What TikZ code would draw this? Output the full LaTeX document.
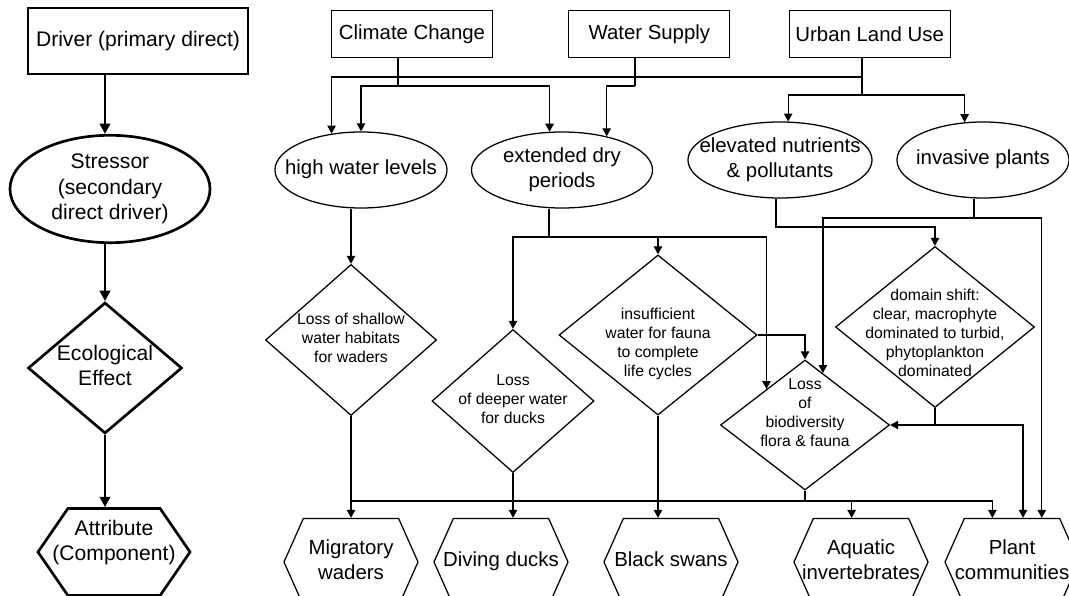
\documentclass[tikz,border=0pt]{standalone}
\usepackage{fontspec}
\setmainfont{Liberation Sans}
\usetikzlibrary{positioning,arrows.meta,shapes.geometric,shapes.symbols}
\newcommand{\shapetext}[2][0pt]{%
  \makebox[0pt]{\raisebox{#1}[\height][\depth]{%
    \begin{tabular}{@{}c@{}}#2\end{tabular}}}}
\tikzset{
  body/.style    = {draw=black, line width=0.9pt, inner sep=0pt,
                    font=\fontsize{14.5}{17.5}\selectfont},
  drvbox/.style  = {body, rectangle, minimum width=4.025cm,
                    minimum height=1.175cm},
  strs/.style    = {body, ellipse, minimum height=1.9cm},
  effect/.style  = {body, diamond, font=\fontsize{11.2}{13.5}\selectfont},
  attrib/.style  = {body, signal, signal to=east and west,
                    signal pointer angle=132, minimum width=3.35cm,
                    minimum height=2.175cm},
  keyitem/.style = {line width=1.9pt, font=\fontsize{15}{18}\selectfont},
  wire/.style    = {black, line width=0.9pt},
  flow/.style    = {wire, -{Triangle[length=2mm,width=2.1mm]}},
  legflow/.style = {black, line width=1.9pt,
                    -{Triangle[length=2.6mm,width=2.6mm]}},
}
\begin{document}
\begin{tikzpicture}[x=0.025cm, y=-0.025cm]
  \useasboundingbox (0,0) rectangle (1069,596);

  %% ---------------- key (left column) ------------------------------
  \node[drvbox, keyitem, minimum width=5.5cm, minimum height=1.65cm]
       (ldrv) at (138,41) {Driver (primary direct)};
  \node[strs, keyitem, minimum width=5cm, minimum height=2.3cm]
       (lstr) at (110,189) {\shapetext{Stressor\\(secondary\\direct driver)}};
  \node[effect, keyitem, minimum width=3.85cm, minimum height=3.275cm]
       (leff) at (105,368) {\shapetext{Ecological\\Effect}};
  \node[attrib, keyitem, signal pointer angle=111, minimum width=3.8cm]
       (latt) at (114,552) {\shapetext[0.22cm]{Attribute\\(Component)}};
  \draw[legflow] (ldrv.south -| leff) -- (lstr.north -| leff);
  \draw[legflow] (lstr.south -| leff) -- (leff.north);
  \draw[legflow] (leff.south) -- (latt.north -| leff);

  %% ---------------- drivers ----------------------------------------
  \node[drvbox] (cc) at (412,34) {Climate Change};
  \node[drvbox, right=1.875cm of cc] (ws) {Water Supply};
  \node[drvbox, right=1.45cm of ws]  (ul) {Urban Land Use};

  %% ---------------- stressors --------------------------------------
  \node[strs, minimum width=4.3cm]   (hwl) at (361,170)
       {\shapetext{high water levels}};
  \node[strs, minimum width=4.525cm] (edp) at (562,170)
       {\shapetext{extended dry\\periods}};
  \node[strs, minimum width=4.6cm]   (elv) at (780,160)
       {\shapetext{elevated nutrients\\\& pollutants}};
  \node[strs, minimum width=4.3cm]   (inv) at (983,160)
       {\shapetext{invasive plants}};

  %% ---------------- ecological effects -----------------------------
  \node[effect, minimum width=4.275cm, minimum height=3.775cm] (shw) at (351,340)
       {\shapetext{Loss of shallow\\water habitats\\for waders}};
  \node[effect, minimum width=4.05cm, minimum height=3.575cm]  (dpw) at (513,401)
       {\shapetext{Loss\\of deeper water\\for ducks}};
  \node[effect, minimum width=4.95cm, minimum height=4cm]      (ins) at (658,335)
       {\shapetext[-0.24cm]{insufficient\\water for fauna\\to complete\\life cycles}};
  \node[effect, minimum width=4.225cm, minimum height=3.25cm]  (bio) at (805,425)
       {\shapetext[0.28cm]{Loss\\of\\biodiversity\\flora \& fauna}};
  \node[effect, minimum width=4.975cm, minimum height=4.025cm] (dom) at (935,327)
       {\shapetext[-0.2cm]{domain shift:\\clear, macrophyte\\dominated to turbid,\\phytoplankton\\dominated}};

  %% ---------------- attributes -------------------------------------
  \node[attrib] (mw) at (351,562)  {\shapetext{Migratory\\waders}};
  \node[attrib] (dd) at (501,562)  {\shapetext{Diving ducks}};
  \node[attrib] (bs) at (671,562)  {\shapetext{Black swans}};
  \node[attrib] (ai) at (861,562)  {\shapetext{Aquatic\\invertebrates}};
  \node[attrib] (pc) at (1012,562) {\shapetext{Plant\\communities}};

  %% ---------------- drivers -> stressors ---------------------------
  \coordinate (ccJ) at (398,86);
  \coordinate (wsJ) at (635,86);
  \coordinate (ulA) at (862,77);
  \coordinate (ulB) at (862,95);
  \draw[wire] (cc.south -| ccJ) -- (ccJ);
  \draw[flow] (ccJ) -| (hwl.north);
  \draw[flow] (ccJ) -| (edp.108);
  \draw[wire] (ws.south -| wsJ) -- (wsJ);
  \draw[flow] (wsJ) -| (edp.37);
  \draw[wire] (ul.south -| ulB) -- (ulB);
  \draw[flow] (ulA) -| (hwl.129);
  \draw[flow] (ulB) -| (elv.78);
  \draw[flow] (ulB) -| (inv.116);

  %% ---------------- stressors -> effects ---------------------------
  \coordinate (edpJ) at (549,237);
  \coordinate (elvJ) at (776,227);
  \coordinate (invJ) at (974,218);
  \draw[flow] (hwl.south -| shw.north) -- (shw.north);
  \draw[wire] (edp.south -| edpJ) -- (edpJ);
  \draw[flow] (edpJ) -| (dpw.north);
  \draw[flow] (edpJ) -| (ins.north);
  \draw[flow] (edpJ) -| (bio.137);
  \draw[flow] (elv.south -| elvJ) -- (elvJ) -| (dom.north);
  \draw[wire] (inv.south -| invJ) -- (invJ);
  \draw[flow] (invJ) -| (bio.71);
  \draw[flow] (invJ) -| (pc.56);
  \draw[flow] (ins.east) -| (bio.north);
  \draw[flow] (dom.south) |- (bio.east);
  \draw[flow] (dom.south) -- (dom.south |- bio.east) -| (pc.76);

  %% ---------------- effects -> attributes --------------------------
  \coordinate (busJ) at (805,501);
  \draw[wire] (bio.south) -- (busJ);
  \draw[wire] (busJ) -| (shw.south);
  \draw[flow] (shw.south) -- (mw.north);
  \draw[flow] (dpw.south) -- (dd.north -| dpw.south);
  \draw[flow] (ins.south) -- (bs.north -| ins.south);
  \draw[flow] (busJ) -| (ai.102);
  \draw[flow] (busJ) -| (pc.114);
\end{tikzpicture}
\end{document}
